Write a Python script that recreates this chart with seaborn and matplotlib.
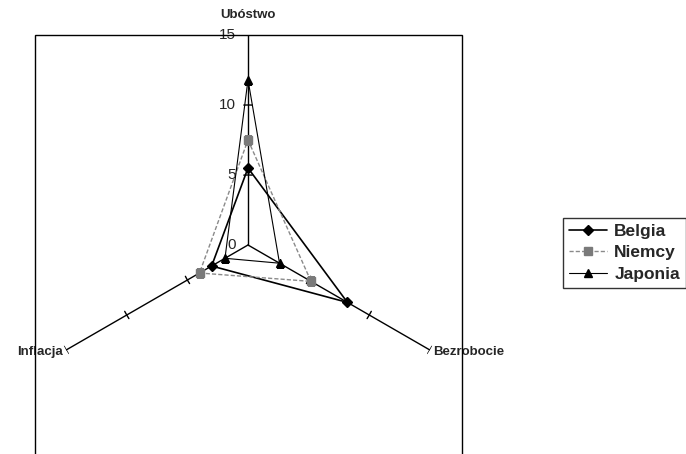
import numpy as np
import pandas as pd
import matplotlib
matplotlib.use('Agg')
import matplotlib.pyplot as plt
import seaborn as sns
from matplotlib.patches import Rectangle
from matplotlib.lines import Line2D

sns.set_style('white')
plt.rcParams['font.family'] = ['Liberation Sans', 'DejaVu Sans']

axes_names = ['Ubóstwo', 'Bezrobocie', 'Inflacja']
countries = ['Belgia', 'Niemcy', 'Japonia']
belgia = [5.5, 8.2, 3.0]
niemcy = [7.5, 5.2, 4.0]
japonia = [11.8, 2.6, 1.9]
r_ticks = [0, 5, 10, 15]

styles = {
    'Belgia': dict(color='black', marker='D', ls='-', lw=1.2, ms=5, mfc='black', mec='black'),
    'Niemcy': dict(color='#8a8a8a', marker='s', ls=(0, (3, 1.5)), lw=1.0, ms=5.5, mfc='#7a7a7a', mec='#7a7a7a'),
    'Japonia': dict(color='black', marker='^', ls='-', lw=0.8, ms=5.5, mfc='black', mec='black'),
}

W, H = 686, 454
fig = plt.figure(figsize=(W / 100, H / 100), dpi=100)

# outer plot-area frame (bottom runs off the picture)
fig.patches.append(Rectangle((35 / W, -0.1), 427 / W, 1.1 - 35 / H,
                             transform=fig.transFigure, fill=False,
                             edgecolor='black', lw=1.0))

cx, cy, R = 248, 245, 210
ax = fig.add_axes([(cx - R) / W, (H - cy - R) / H, 2 * R / W, 2 * R / H],
                  projection='polar')
ax.set_theta_offset(np.pi / 2)
ax.set_theta_direction(-1)
ax.set_ylim(0, 15)
ax.grid(False)
ax.set_xticks([])
ax.set_yticks([])
ax.spines['polar'].set_visible(False)
ax.patch.set_alpha(0)

theta = np.deg2rad([0, 120, 240])

# spokes with tick marks
for t in theta:
    ax.plot([t, t], [0, 15], color='black', lw=1.0, zorder=1)
    for v in [5, 10, 15]:
        d = 0.3 / v
        ax.plot(np.linspace(t - d, t + d, 5), [v] * 5, color='black', lw=1.0, zorder=1)

for v in r_ticks:
    ax.annotate(str(v), (0, v), xytext=(-9, 0), textcoords='offset points',
                ha='right', va='center', fontsize=11)

lab_kw = dict(va='center', fontsize=9.5, fontweight='bold')
ax.text(0, 16.4, axes_names[0], ha='center', **lab_kw)
ax.text(theta[1], 15.3, axes_names[1], ha='left', **lab_kw)
ax.text(theta[2], 15.3, axes_names[2], ha='right', **lab_kw)

values = {'Belgia': belgia, 'Niemcy': niemcy, 'Japonia': japonia}
handles = []
for name in countries:
    vals = values[name]
    df = pd.DataFrame({'theta': list(theta) + [2 * np.pi], 'r': vals + [vals[0]]})
    st = styles[name]
    sns.lineplot(data=df, x='theta', y='r', ax=ax, sort=False, estimator=None,
                 color=st['color'], lw=st['lw'], ls=st['ls'], zorder=3)
    ax.plot(theta, vals, ls='none', marker=st['marker'], ms=st['ms'],
            mfc=st['mfc'], mec=st['mec'], zorder=4)
    handles.append(Line2D([], [], color=st['color'], lw=st['lw'], ls=st['ls'],
                          marker=st['marker'], ms=st['ms'], mfc=st['mfc'], mec=st['mec']))
ax.set_xlabel('')
ax.set_ylabel('')
ax.set_ylim(0, 15)

leg = fig.legend(handles, countries, loc='upper left',
                 bbox_to_anchor=(563 / W, 1 - 218 / H), frameon=True,
                 fancybox=False, prop={'size': 12.5, 'weight': 'bold'},
                 handlelength=2.2, handletextpad=0.4, borderpad=0.35,
                 labelspacing=0.35, borderaxespad=0)
leg.get_frame().set_edgecolor('black')
leg.get_frame().set_linewidth(1.0)

fig.savefig('out.png', dpi=100)
